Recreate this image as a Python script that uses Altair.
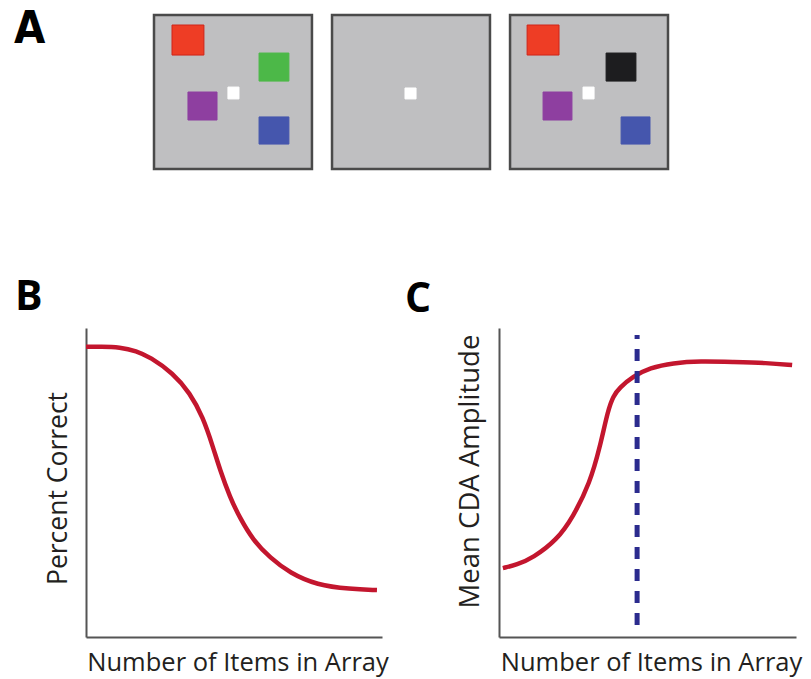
import altair as alt
import pandas as pd

# ---------------------------------------------------------------
# Panel A: change-detection displays (memory array, delay, test array)
# Item rectangles are given in display units: each screen is 100 x 100.
# ---------------------------------------------------------------
screen_ids = [0, 1, 2]
item_screen = [0, 0, 0, 0, 0, 1, 2, 2, 2, 2, 2]
item_x0 = [11.4, 66.5, 21.5, 66.5, 46.8, 46.2, 10.8, 60.8, 20.9, 70.3, 46.2]
item_x1 = [31.6, 85.4, 39.9, 85.4, 53.8, 53.2, 31.0, 79.7, 39.2, 88.6, 53.2]
item_y0 = [6.5, 24.7, 50.0, 66.2, 46.8, 47.4, 6.5, 24.7, 50.0, 66.2, 46.8]
item_y1 = [26.0, 42.9, 68.2, 83.8, 54.5, 54.5, 26.0, 42.9, 68.2, 83.8, 54.5]
item_fill = ["#ee3d25", "#4cb848", "#8e3fa0", "#4556ad", "#ffffff", "#ffffff",
             "#ee3d25", "#1d1d1f", "#8e3fa0", "#4556ad", "#ffffff"]
item_stroke = ["#cf2419", "#4cb848", "#8e3fa0", "#4556ad", "#ffffff", "#ffffff",
               "#cf2419", "#1d1d1f", "#8e3fa0", "#4556ad", "#ffffff"]

# ---------------------------------------------------------------
# Panel B: percent correct vs. number of items (x and y on 0-100 scales)
# ---------------------------------------------------------------
b_x = [0.0, 5.0, 11.5, 17.0, 21.6, 29.4, 35.1, 39.5, 42.9, 45.3, 48.6, 52.0,
       56.4, 62.2, 68.9, 78.0, 89.2, 98.3]
b_y = [93.9, 94.0, 93.8, 92.6, 90.6, 85.4, 79.0, 71.2, 61.5, 54.0, 45.3, 38.5,
       31.4, 25.6, 20.7, 16.8, 15.5, 15.2]

# ---------------------------------------------------------------
# Panel C: mean CDA amplitude vs. number of items, with capacity marker
# ---------------------------------------------------------------
c_x = [1.3, 6.0, 11.4, 19.5, 24.9, 30.6, 34.0, 36.7, 38.5, 40.5, 45.1, 50.8,
       58.6, 67.7, 78.8, 90.2, 98.7]
c_y = [22.3, 23.4, 25.6, 31.4, 38.8, 49.8, 61.5, 73.5, 78.0, 80.6, 84.3, 87.1,
       88.7, 89.3, 89.0, 88.7, 88.0]
capacity_x = [46.5]
capacity_y0 = [3.9]
capacity_y1 = [97.7]

panel_letters = ["A", "B", "C"]
x_title = "Number of Items in Array"
b_title = "Percent Correct"
c_title = "Mean CDA Amplitude"

# ---------------------------------------------------------------
# Layout constants (pixels)
# ---------------------------------------------------------------
W, H = 811, 679
SCREEN_STEP = 112.7          # distance between screens, display units
A_XRANGE = [154, 668]
A_YRANGE = [15, 169]
B_XRANGE = [86, 382]
C_XRANGE = [499, 796]
Y_RANGE = [637, 328]
AXIS_Y = 637

TEXT_FONT = "Open Sans"
TEXT_COLOR = "#231f20"
AXIS_COLOR = "#555555"
CURVE_COLOR = "#c3162e"
DASH_COLOR = "#2b2b8e"

# ---------------- Panel A ----------------
screens = pd.DataFrame({"screen": screen_ids})
screens["x0"] = screens["screen"] * SCREEN_STEP
screens["x1"] = screens["x0"] + 100
screens["y0"] = 0.0
screens["y1"] = 100.0

items = pd.DataFrame({
    "screen": item_screen, "x0": item_x0, "x1": item_x1,
    "y0": item_y0, "y1": item_y1, "fill": item_fill, "stroke": item_stroke,
})
items["ax0"] = items["screen"] * SCREEN_STEP + items["x0"]
items["ax1"] = items["screen"] * SCREEN_STEP + items["x1"]

a_x = alt.Scale(domain=[0, 2 * SCREEN_STEP + 100], range=A_XRANGE)
a_y = alt.Scale(domain=[0, 100], range=A_YRANGE)

screen_rects = alt.Chart(screens).mark_rect(
    fill="#bfbfc1", stroke="#4a4a4a", strokeWidth=2.5
).encode(
    x=alt.X("x0:Q", scale=a_x, axis=None),
    x2="x1:Q",
    y=alt.Y("y0:Q", scale=a_y, axis=None),
    y2="y1:Q",
)

item_rects = alt.Chart(items).mark_rect(strokeWidth=1).encode(
    x=alt.X("ax0:Q", scale=a_x, axis=None),
    x2="ax1:Q",
    y=alt.Y("y0:Q", scale=a_y, axis=None),
    y2="y1:Q",
    fill=alt.Fill("fill:N", scale=None),
    stroke=alt.Stroke("stroke:N", scale=None),
)

panel_a = alt.layer(screen_rects, item_rects)

Y_AXIS_POS = {b_title: B_XRANGE[0], c_title: C_XRANGE[0]}


def y_axis(title, size, title_x, title_y):
    return alt.Axis(
        orient="left", offset=-Y_AXIS_POS[title], domain=True,
        domainColor=AXIS_COLOR, domainWidth=2, ticks=False, labels=False,
        grid=False, title=title, titleFont=TEXT_FONT, titleFontSize=size,
        titleFontWeight="normal", titleColor=TEXT_COLOR, titleAngle=270,
        titleBaseline="alphabetic", titleAlign="center",
        titleX=title_x, titleY=title_y,
    )


def x_axis(title_center):
    return alt.Axis(
        orient="bottom", offset=-(H - AXIS_Y), domain=True,
        domainColor=AXIS_COLOR, domainWidth=2, ticks=False, labels=False,
        grid=False, title=x_title, titleFont=TEXT_FONT, titleFontSize=25.5,
        titleFontWeight="normal", titleColor=TEXT_COLOR,
        titleBaseline="alphabetic", titleAlign="center",
        titleX=title_center, titleY=33,
    )


# ---------------- Panel B ----------------
b_df = pd.DataFrame({"items": b_x, "value": b_y})
panel_b = alt.Chart(b_df).mark_line(
    color=CURVE_COLOR, strokeWidth=4.5, interpolate="basis", strokeCap="butt"
).encode(
    x=alt.X("items:Q", scale=alt.Scale(domain=[0, 100], range=B_XRANGE),
            axis=x_axis(237.5)),
    y=alt.Y("value:Q", scale=alt.Scale(domain=[0, 100], range=Y_RANGE),
            axis=y_axis(b_title, 26.5, -20, 488)),
)

# ---------------- Panel C ----------------
c_df = pd.DataFrame({"items": c_x, "value": c_y})
c_xs = alt.Scale(domain=[0, 100], range=C_XRANGE)
c_ys = alt.Scale(domain=[0, 100], range=Y_RANGE)

c_curve = alt.Chart(c_df).mark_line(
    color=CURVE_COLOR, strokeWidth=4.5, interpolate="basis", strokeCap="butt"
).encode(
    x=alt.X("items:Q", scale=c_xs, axis=x_axis(651)),
    y=alt.Y("value:Q", scale=c_ys, axis=y_axis(c_title, 27.5, -21, 471)),
)

cap_df = pd.DataFrame({"k": capacity_x, "y0": capacity_y0, "y1": capacity_y1})
c_rule = alt.Chart(cap_df).mark_rule(
    color=DASH_COLOR, strokeWidth=5, strokeDash=[12, 10]
).encode(
    x=alt.X("k:Q", scale=c_xs),
    y=alt.Y("y0:Q", scale=c_ys),
    y2="y1:Q",
)

panel_c = alt.layer(c_curve, c_rule)

# ---------------- Panel letters ----------------
letter_df = pd.DataFrame({"letter": panel_letters})


def letter(ch, x, y, font, size):
    return alt.Chart(letter_df).transform_filter(
        alt.datum.letter == ch
    ).mark_text(
        font=font, fontSize=size, fontWeight="bold", color="#000000",
        align="left", baseline="alphabetic",
    ).encode(text="letter:N", x=alt.value(x), y=alt.value(y))


letter_a = letter("A", 14, 43, "Liberation Sans Narrow, DejaVu Sans Condensed", 45)
letter_b = letter("B", 15, 310, TEXT_FONT, 41)
letter_c = letter("C", 405, 312, TEXT_FONT, 41)

chart = alt.layer(
    panel_a, panel_b, panel_c, letter_a, letter_b, letter_c
).resolve_scale(
    x="independent", y="independent"
).properties(
    width=W, height=H, autosize=alt.AutoSizeParams(type="none"), padding=0,
    background="#ffffff",
).configure_view(stroke=None)

chart.save("out.html", embed_options={"renderer": "svg", "actions": False})
